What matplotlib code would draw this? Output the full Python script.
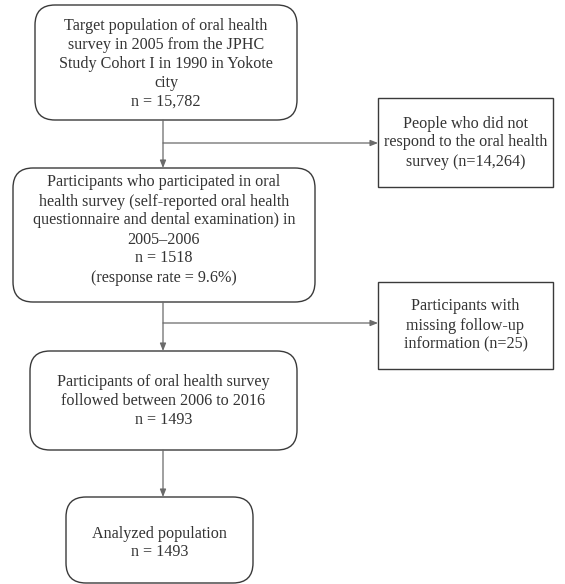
import matplotlib
matplotlib.use("Agg")
import matplotlib.pyplot as plt
from matplotlib.patches import FancyBboxPatch, Rectangle

# ---- content ----
main_labels = [
    "Target population of oral health\nsurvey in 2005 from the JPHC\nStudy Cohort I in 1990 in Yokote\ncity\nn = 15,782",
    "Participants who participated in oral\nhealth survey (self-reported oral health\nquestionnaire and dental examination) in\n2005\u20132006\nn = 1518\n(response rate = 9.6%)",
    "Participants of oral health survey\nfollowed between 2006 to 2016\nn = 1493",
    "Analyzed population\nn = 1493",
]
side_labels = [
    "People who did not\nrespond to the oral health\nsurvey (n=14,264)",
    "Participants with\nmissing follow-up\ninformation (n=25)",
]

# ---- layout (pixel coords) ----
main_boxes = [(35, 5, 297, 120), (13, 168, 315, 302), (30, 351, 297, 450), (66, 497, 253, 583)]
main_text_y = [64, 230, 401, 543]
side_boxes = [(378, 98, 553, 187), (378, 282, 553, 369)]
branch_y = [143, 323]
xc = 163

W, H = 565, 584
fig = plt.figure(figsize=(W / 100, H / 100), dpi=100)
ax = fig.add_axes([0, 0, 1, 1])
ax.set_xlim(0, W)
ax.set_ylim(H, 0)
ax.axis("off")

font = dict(family="Liberation Serif", fontsize=11.6, color="#333333",
            ha="center", va="center", linespacing=1.25)
edge = "#3a3a3a"
lcol = "#6a6a6a"

for (x0, y0, x1, y1), ty, lab in zip(main_boxes, main_text_y, main_labels):
    p = FancyBboxPatch((x0, y0), x1 - x0, y1 - y0,
                       boxstyle="round,pad=0,rounding_size=20",
                       fc="white", ec=edge, lw=1.0)
    ax.add_patch(p)
    ax.text((x0 + x1) / 2, ty, lab, **font)

for (x0, y0, x1, y1), lab in zip(side_boxes, side_labels):
    ax.add_patch(Rectangle((x0, y0), x1 - x0, y1 - y0, fc="white", ec=edge, lw=1.0))
    ax.text((x0 + x1) / 2, (y0 + y1) / 2, lab, **font)

arrow = dict(arrowstyle="-|>,head_length=0.45,head_width=0.18", color=lcol, lw=0.9,
             shrinkA=0, shrinkB=0)

# vertical connectors
for i in range(3):
    y_start = main_boxes[i][3]
    y_end = main_boxes[i + 1][1]
    ax.annotate("", xy=(xc, y_end), xytext=(xc, y_start), arrowprops=arrow)

# side branches
for by, sb in zip(branch_y, side_boxes):
    ax.annotate("", xy=(sb[0], by), xytext=(xc, by), arrowprops=arrow)

fig.savefig("out.png", dpi=100)
